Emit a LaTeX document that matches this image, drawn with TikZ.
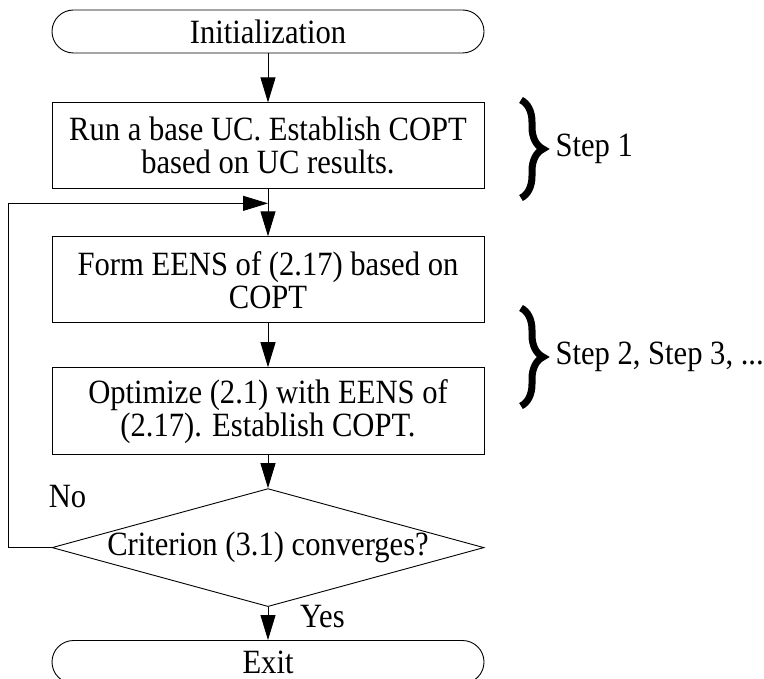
\documentclass[tikz,border=0pt]{standalone}
\usepackage{fontspec}
\setmainfont{Liberation Serif}[FakeStretch=0.9]
\usepackage{tikz}
\usetikzlibrary{arrows.meta,positioning,shapes.geometric,decorations.pathreplacing}
\tikzstyle{terminal}=[rectangle,rounded corners=21.5pt,draw,line width=0.9pt,
                  minimum width=432pt,minimum height=43pt,inner sep=0pt]
\tikzstyle{procbox}=[rectangle,draw,line width=0.9pt,minimum width=432pt,
                  minimum height=86pt,inner sep=0pt,align=center]
\tikzstyle{decision}=[diamond,draw,line width=0.9pt,minimum width=432pt,
                  minimum height=118pt,inner sep=0pt]
\tikzstyle{arrow}=[-{Triangle[length=25pt,width=15pt]},line width=0.9pt]
\tikzstyle{stepbrace}=[decorate,decoration={brace,amplitude=22pt},line width=7pt]

\begin{document}
\begin{tikzpicture}[font=\fontsize{34}{33}\selectfont]
      \useasboundingbox (0,0) rectangle (764pt,-679pt);
      \node[terminal] (init) at (268pt,-31.5pt) {Initialization};
      \node[procbox,below=49pt of init] (base) {Run a base UC. Establish COPT\\based on UC results.};
      \node[procbox,below=47pt of base] (eens) {Form EENS of (2.17) based on\\COPT};
      \node[procbox,below=44pt of eens,minimum height=87pt] (opt) {Optimize (2.1) with EENS of\\(2.17). Establish COPT.};
      \node[decision,below=33pt of opt,label=center:{Criterion (3.1) converges?}] (conv) {};
      \node[terminal,below=33pt of conv] (exit) {Exit};

      \coordinate (join) at ([yshift=-14pt]base.south);
      \coordinate (back) at ([xshift=-43pt]conv.west);

      \draw[arrow] (init)--(base);
      \draw[arrow] (base)--(eens);
      \draw[arrow] (eens)--(opt);
      \draw[arrow] (opt)--(conv);
      \draw[arrow] (conv)--(exit);
      \draw[arrow] (conv.west)--(back)|-(join);

      \node[anchor=base west,inner sep=0pt] (no) at ([xshift=-3pt,yshift=40pt]conv.west) {No};
      \node[anchor=base west,inner sep=0pt] (yes) at ([xshift=32pt,yshift=-20pt]conv.south) {Yes};

      % braces on the right
      \coordinate (b1t) at (521pt,-100pt);
      \coordinate (b1b) at (521pt,-198pt);
      \coordinate (b2t) at (521pt,-308pt);
      \coordinate (b2b) at (521pt,-406pt);
      \draw[stepbrace] (b1t)--(b1b) node[midway,right=31pt,inner sep=0pt] (s1) {Step 1};
      \draw[stepbrace] (b2t)--(b2b) node[midway,right=31pt,inner sep=0pt] (s2) {Step 2, Step 3, ...};
    \end{tikzpicture}
\end{document}
